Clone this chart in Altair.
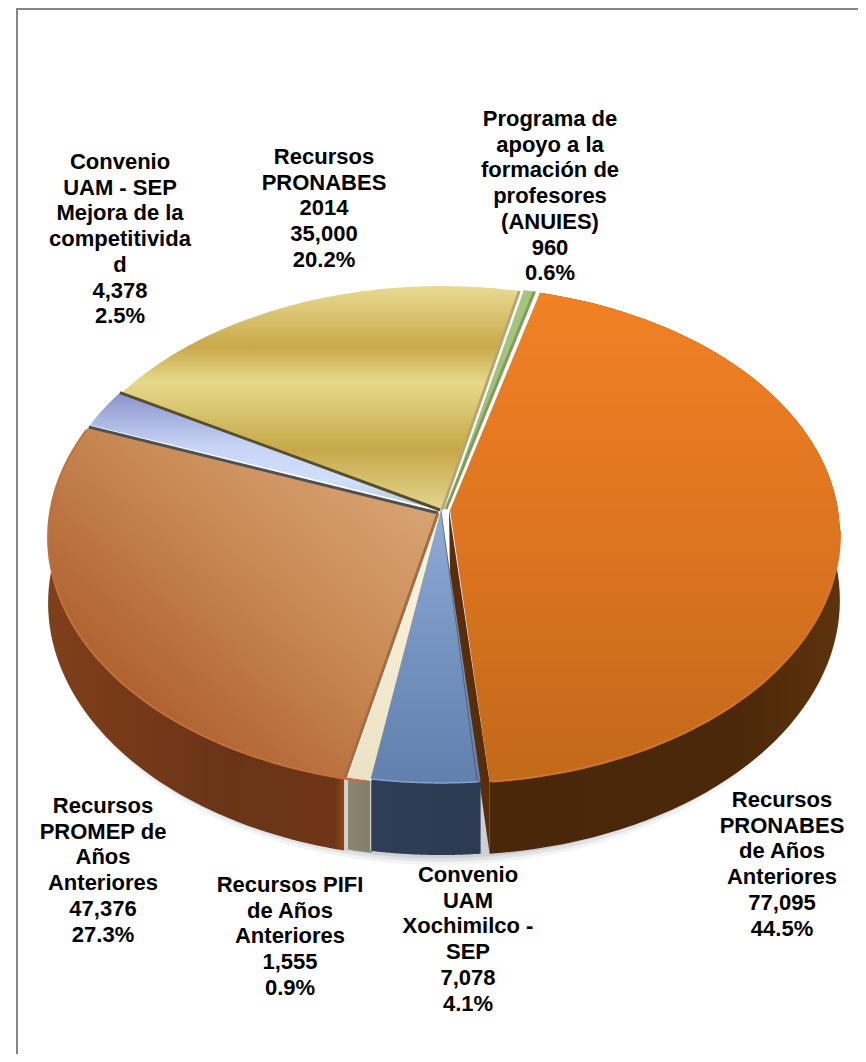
import numpy as np
import altair as alt

# ---- data ----
names = [
    ["Recursos", "PRONABES", "de Años", "Anteriores"],
    ["Convenio", "UAM", "Xochimilco -", "SEP"],
    ["Recursos PIFI", "de Años", "Anteriores"],
    ["Recursos", "PROMEP de", "Años", "Anteriores"],
    ["Convenio", "UAM - SEP", "Mejora de la", "competitivida", "d"],
    ["Recursos", "PRONABES", "2014"],
    ["Programa de", "apoyo a la", "formación de", "profesores", "(ANUIES)"],
]
values = [77095, 7078, 1555, 47376, 4378, 35000, 960]
percents = ["44.5%", "4.1%", "0.9%", "27.3%", "2.5%", "20.2%", "0.6%"]

# ---- layout and style ----
W, H = 850, 1046
OX, OY = 8, 8
APEX = (441 - OX, 510 - OY)
RX, RY, P = 388.0, 246.0, 0.0986
DEPTH = 65.0
START = 14.7
EXPLODE = [(9, 0), (0, 0), (1, 2), (-3, 3), (-1, 0), (1, 0), (5, -1)]
label_pos = [(782, 800), (468, 875), (290, 885), (103, 806), (120, 162), (324, 157), (550, 119)]
LINE = 25.7

def stops(*pairs):
    return [{"offset": o, "color": c} for o, c in pairs]

def grad(x1, y1, x2, y2, *pairs):
    return {"gradient": "linear", "x1": x1, "y1": y1, "x2": x2, "y2": y2, "stops": stops(*pairs)}

top_fill = [
    grad(0, 0, 0, 1, (0, "#F28124"), (0.5, "#DD7420"), (1, "#C2691A")),
    grad(0, 0, 0, 1, (0, "#8FABD6"), (0.55, "#7391BD"), (1, "#6280AE")),
    grad(0, 0, 0, 1, (0, "#FFF6DE"), (1, "#EBE1C4")),
    grad(1, 0, 0, 1, (0, "#DDAE80"), (0.42, "#C98A55"), (0.8, "#AE5F2E"), (1, "#A9582A")),
    grad(0, 0, 0, 1, (0, "#8A93CB"), (0.45, "#C6D3F5"), (0.75, "#D2DFFA"), (1, "#B3C9D2")),
    grad(0, 0, 0, 1, (0, "#E8DB93"), (0.27, "#C9A94A"), (0.43, "#E6D98B"), (0.73, "#C6A849"), (1, "#E4D690")),
    grad(0, 0, 0, 1, (0, "#A6C57E"), (1, "#9DBB74")),
]
wall_fill = [
    grad(0, 0, 1, 0, (0, "#4A2708"), (0.7, "#4B2809"), (1, "#5E330C")),
    grad(0, 0, 1, 0, (0, "#2F3E56"), (1, "#2C3B52")),
    grad(0, 0, 1, 0, (0, "#8A8670"), (1, "#827E69")),
    grad(0, 0, 1, 0, (0, "#7F3F1A"), (0.6, "#6B3418"), (0.97, "#6E3616"), (1, "#8F4715")),
    None, None, None,
]

# angular boundaries of the slices, from the values
frac = np.array(values) / sum(values)
bounds = START + 360 * np.concatenate([[0], np.cumsum(frac)])

def project(theta_deg, radius=1.0):
    t = np.radians(theta_deg)
    u, v = radius * np.sin(t), -radius * np.cos(t)
    d = 1 - P * v
    return RX * u / d, RY * v / d, d

def rim(a0, a1, off=(0, 0), drop=0.0):
    ts = np.linspace(a0, a1, 80)
    x, y, d = project(ts)
    return [[float(a + off[0]), float(b + off[1] + drop / c)] for a, b, c in zip(x, y, d)]

def poly(ring):
    ring = ring + [ring[0]]
    return [{"type": "Feature", "properties": {}, "geometry": {"type": "Polygon", "coordinates": [ring]}}]

def line(pts):
    return [{"type": "Feature", "properties": {}, "geometry": {"type": "LineString", "coordinates": pts}}]

proj = dict(type="identity", scale=1, translate=list(APEX))

def fill_layer(features, fill, opacity=1.0):
    return alt.Chart(alt.Data(values=features)).mark_geoshape(
        fill=fill, strokeWidth=0, opacity=opacity).project(**proj)

def stroke_layer(features, color, width):
    return alt.Chart(alt.Data(values=features)).mark_geoshape(
        filled=False, stroke=color, strokeWidth=width).project(**proj)

layers = []

# soft shadow under the pie
for extra, op in [(9, 0.10), (6, 0.14), (3, 0.20)]:
    layers.append(fill_layer(poly(rim(100, 260) + rim(260, 100, drop=DEPTH + extra)), "#808890", op))

# orange cut face, behind everything in front
ox, oy = EXPLODE[0]
end = bounds[1]
e = rim(end, end, (ox, oy))[0]
e2 = rim(end, end, (ox, oy), DEPTH)[0]
layers.append(fill_layer(poly([[ox - 1, oy], e, e2, [ox, oy + DEPTH]]), "#5A2D0A"))

# outer walls
for i in [0, 3, 2, 1]:
    a0, a1 = bounds[i], bounds[i + 1]
    layers.append(fill_layer(poly(rim(a0, a1, EXPLODE[i]) + rim(a1, a0, EXPLODE[i], DEPTH)), wall_fill[i]))

# thin white line between the two small walls
sep = rim(bounds[2], bounds[2], (0, 0))[0]
sep2 = rim(bounds[2], bounds[2], (0, 0), DEPTH)[0]
layers.append(stroke_layer(line([sep, sep2]), "#E6E6E6", 1))

# top faces
for i in [6, 5, 4, 3, 2, 1, 0]:
    ex = EXPLODE[i]
    ring = [[float(ex[0]), float(ex[1])]] + rim(bounds[i], bounds[i + 1], ex)
    layers.append(fill_layer(poly(ring), top_fill[i]))

# bevels along the cut edges
def edge(theta, off, color, width, radius=1.0):
    p = rim(theta, theta, off)[0]
    layers.append(stroke_layer(line([[float(off[0]), float(off[1])], p]), color, width))

edge(bounds[4] + 0.25, EXPLODE[3], "#4A5258", 3)
edge(bounds[5] - 0.0, EXPLODE[4], "#574E2A", 3)
edge(bounds[0] + 360 - 0.25, EXPLODE[6], "#7F9E5B", 3)
edge(bounds[6] - 0.1, EXPLODE[5], "#B5A674", 3)
edge(bounds[3] - 0.1, EXPLODE[3], "#AC6B3C", 3)
edge(bounds[1] + 0.45, (0, 0), "#5A2D0A", 0.5)

# lighter rims on the front edge
layers.append(stroke_layer(line(rim(bounds[2] + 0.5, bounds[4] - 0.5, EXPLODE[3])), "#C47038", 2))
layers.append(stroke_layer(line(rim(bounds[1] + 0.3, bounds[2] - 0.2)), "#86A4D0", 1.5))
layers.append(stroke_layer(line(rim(bounds[0] + 80, bounds[1] - 0.3, EXPLODE[0])), "#D0782A", 2))

# labels, one row per text line
rows = []
for name, val, pct, (lx, ly) in zip(names, values, percents, label_pos):
    for j, t in enumerate(name + [f"{val:,}", pct]):
        rows.append({"t": t, "x": lx - OX, "y": ly - OY + j * LINE})

labels = alt.Chart(alt.Data(values=rows)).mark_text(
    font="Liberation Sans", fontSize=22, fontWeight="bold", color="black",
    align="center", baseline="middle",
).encode(
    x=alt.X("x:Q", scale=None, axis=None),
    y=alt.Y("y:Q", scale=None, axis=None),
    text="t:N",
)

# frame: top and left edges only
frame_color = "#868686"
top_rule = alt.Chart(alt.Data(values=[{"k": 1}])).mark_rule(color=frame_color, strokeWidth=2).encode(
    x=alt.value(8), x2=alt.value(W), y=alt.value(1))
left_rule = alt.Chart(alt.Data(values=[{"k": 1}])).mark_rule(color=frame_color, strokeWidth=2).encode(
    x=alt.value(9), y=alt.value(0), y2=alt.value(H))

chart = alt.layer(*layers, labels, top_rule, left_rule).properties(
    width=W, height=H, padding=0, autosize="none", background="white"
).configure_view(stroke=None)

chart.save("out.html", embed_options={"renderer": "svg", "actions": False})
